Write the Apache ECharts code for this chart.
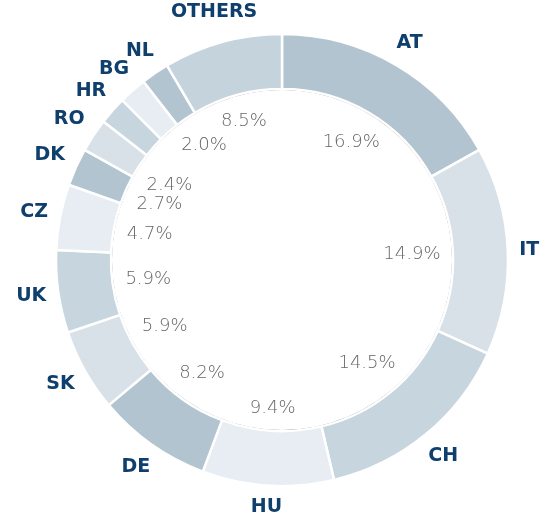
<!DOCTYPE html>
<html>
<head>
<meta charset="utf-8">
<script src="https://cdn.jsdelivr.net/npm/echarts@6/dist/echarts.min.js"></script>
<style>
  html, body { margin: 0; padding: 0; background: #fff; }
  #main { width: 549px; height: 515px; }
</style>
</head>
<body>
<div id="main"></div>
<script>
// countries clockwise from the top
const countries = ['AT', 'IT', 'CH', 'HU', 'DE', 'SK', 'UK', 'CZ', 'DK', 'RO', 'HR', 'BG', 'NL', 'OTHERS'];
const shares = [16.9, 14.9, 14.5, 9.4, 8.2, 5.9, 5.9, 4.7, 2.7, 2.4, 2.0, 2.0, 2.0, 8.5];
// inner percent labels that are not printed in the original
const hiddenPct = ['HR', 'BG'];
const colors = ['#b2c4d0', '#d8e1e8', '#c6d5de', '#e7edf2'];
const othersColor = '#c5d3dd';

const navy = '#0e3f6d';
const cx = 282, cy = 260;
const innerR = 171, outerR = 226;

const total = shares.reduce((a, b) => a + b, 0);
// mid angle of each slice, radians, clockwise from 12 o'clock
const midAngles = [];
let acc = 0;
shares.forEach((v) => {
  midAngles.push((acc + v / 2) / total * Math.PI * 2);
  acc += v;
});

// put a label box so its nearest (or farthest) corner sits at distance d from the centre
const placeLabel = (d, outward) => (params) => {
  const a = midAngles[params.dataIndex];
  const ux = Math.sin(a), uy = -Math.cos(a);
  const w = params.labelRect.width / 2, h = params.labelRect.height / 2;
  const ext = w * Math.abs(ux) + h * Math.abs(uy);
  const r = outward ? d + ext : d - ext;
  return { x: cx + r * ux, y: cy + r * uy, align: 'center', verticalAlign: 'middle' };
};

const ringData = countries.map((c, i) => ({
  name: c,
  value: shares[i],
  itemStyle: { color: c === 'OTHERS' ? othersColor : colors[i % 4] }
}));

const chart = echarts.init(document.getElementById('main'));
chart.setOption({
  animation: false,
  series: [
    {
      // thin grey line around the hole
      type: 'pie',
      silent: true,
      center: [cx, cy],
      radius: [innerR - 1, innerR + 0.2],
      startAngle: 90,
      label: { show: false },
      labelLine: { show: false },
      itemStyle: { color: '#8c8c8c' },
      data: [{ name: 'hole', value: 1 }]
    },
    {
      type: 'pie',
      silent: true,
      center: [cx, cy],
      radius: [innerR, outerR],
      startAngle: 90,
      itemStyle: { borderColor: '#fff', borderWidth: 2.5 },
      label: { show: false },
      labelLine: { show: false },
      data: ringData
    },
    {
      // country names outside the ring
      type: 'pie',
      silent: true,
      center: [cx, cy],
      radius: [240, 262],
      startAngle: 90,
      itemStyle: { color: 'rgba(0,0,0,0)' },
      labelLine: { show: false },
      label: {
        show: true,
        position: 'inside',
        formatter: '{b}',
        color: navy,
        fontFamily: 'DejaVu Sans',
        fontWeight: 'bold',
        fontSize: 19
      },
      labelLayout: placeLabel(237, true),
      data: countries.map((c, i) => ({ name: c, value: shares[i] }))
    },
    {
      // percentages inside the hole
      type: 'pie',
      silent: true,
      center: [cx, cy],
      radius: [128, 148],
      startAngle: 90,
      itemStyle: { color: 'rgba(0,0,0,0)' },
      labelLine: { show: false },
      label: {
        show: true,
        position: 'inside',
        formatter: (p) => p.value.toFixed(1) + '%',
        color: '#666666',
        fontFamily: 'DejaVu Sans',
        fontWeight: 200,
        fontSize: 18
      },
      labelLayout: placeLabel(159, false),
      data: countries.map((c, i) => ({
        name: c,
        value: shares[i],
        label: { show: hiddenPct.indexOf(c) < 0 }
      }))
    }
  ]
});
</script>
</body>
</html>
